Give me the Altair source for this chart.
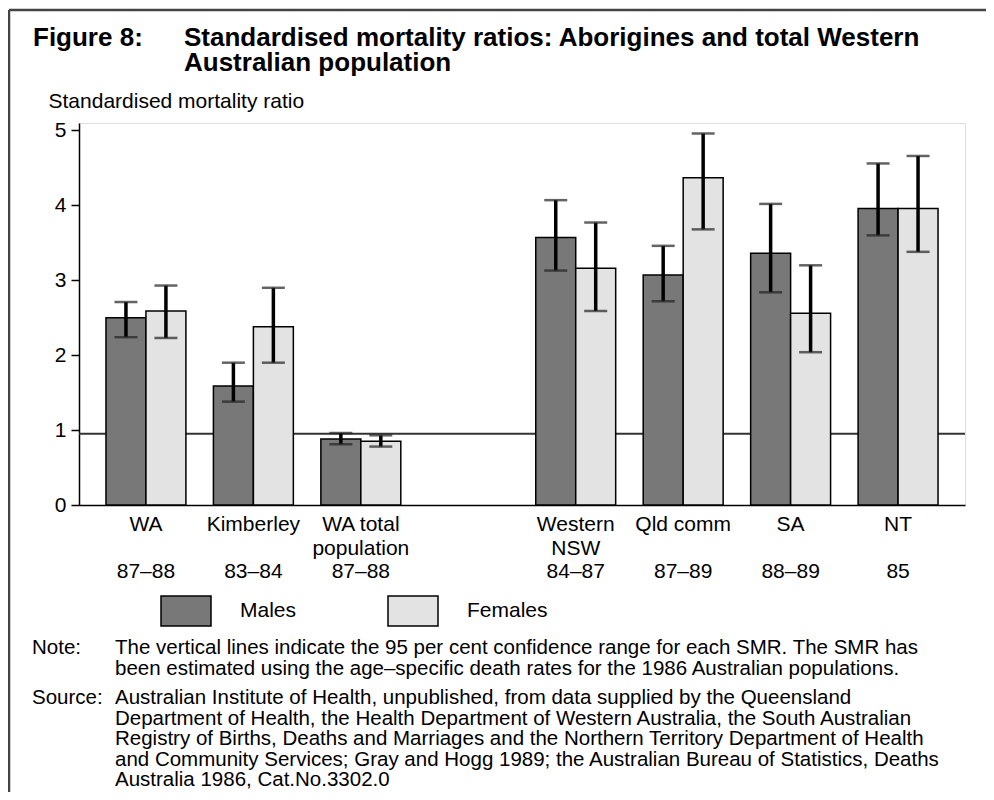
import json
import altair as alt
import pandas as pd

# ---------------- data ----------------
regions = ["WA", "Kimberley", "WA total population", "Western NSW", "Qld comm", "SA", "NT"]
periods = ["87–88", "83–84", "87–88", "84–87", "87–89", "88–89", "85"]
region_lines = [["WA"], ["Kimberley"], ["WA total", "population"],
                ["Western", "NSW"], ["Qld comm"], ["SA"], ["NT"]]
sexes = ["Males", "Females"]

male_smr = [2.50, 1.59, 0.88, 3.57, 3.07, 3.36, 3.96]
male_low = [2.24, 1.38, 0.81, 3.13, 2.72, 2.84, 3.60]
male_high = [2.71, 1.90, 0.96, 4.07, 3.46, 4.02, 4.56]

female_smr = [2.59, 2.38, 0.85, 3.16, 4.37, 2.56, 3.96]
female_low = [2.23, 1.90, 0.78, 2.59, 3.68, 2.04, 3.38]
female_high = [2.93, 2.90, 0.93, 3.77, 4.96, 3.20, 4.66]

ref_line = [0.95]
y_ticks = [0, 1, 2, 3, 4, 5]

fig_label = "Figure 8:"
title_lines = ["Standardised mortality ratios: Aborigines and total Western",
               "Australian population"]
y_title = "Standardised mortality ratio"
note_label = "Note:"
note_lines = ["The vertical lines indicate the 95 per cent confidence range for each SMR. The SMR has",
              "been estimated using the age–specific death rates for the 1986 Australian populations."]
source_label = "Source:"
source_lines = ["Australian Institute of Health, unpublished, from data supplied by the Queensland",
                "Department of Health, the Health Department of Western Australia, the South Australian",
                "Registry of Births, Deaths and Marriages and the Northern Territory Department of Health",
                "and Community Services; Gray and Hogg 1989; the Australian Bureau of Statistics, Deaths",
                "Australia 1986, Cat.No.3302.0"]

# ---------------- tables ----------------
rows = []
for i, r in enumerate(regions):
    rows.append({"region": r, "sex": "Males", "smr": male_smr[i], "low": male_low[i], "high": male_high[i]})
    rows.append({"region": r, "sex": "Females", "smr": female_smr[i], "low": female_low[i], "high": female_high[i]})
df = pd.DataFrame(rows)
period_df = pd.DataFrame({"region": regions, "period": periods})

gap_key = "gap"
x_domain = regions[:3] + [gap_key] + regions[3:]
label_lines = region_lines[:3] + [[""]] + region_lines[3:]
label_expr = (json.dumps(label_lines, ensure_ascii=False)
              + "[indexof(" + json.dumps(x_domain, ensure_ascii=False) + ", datum.value)]")

FONT = "Liberation Sans"
MALE = "#787878"
FEMALE = "#e3e3e3"

x_scale = alt.Scale(domain=x_domain, paddingInner=0.256, paddingOuter=0.251)
x_axis = alt.Axis(title=None, ticks=False, labelExpr=label_expr, labelAngle=0,
                  labelAlign="center", labelBaseline="top", labelLineHeight=24,
                  labelPadding=8.5, labelFontSize=21, labelFont=FONT, labelColor="black",
                  labelOverlap=False, labelBound=False, labelLimit=400,
                  domainColor="black", domainWidth=1.5)
x_enc = alt.X("region:N", scale=x_scale, axis=x_axis)
xoff_enc = alt.XOffset("sex:N", scale=alt.Scale(domain=sexes, paddingInner=0, paddingOuter=0))

y_scale = alt.Scale(domain=[0, 5.1], nice=False, zero=True)
y_axis = alt.Axis(values=y_ticks, format="d", grid=False, tickSize=8, tickColor="black",
                  tickWidth=1.5, domainColor="black", domainWidth=1.5, labelFontSize=21,
                  labelFont=FONT, labelColor="black", labelPadding=5,
                  title=y_title, titleAngle=0, titleAlign="left", titleBaseline="middle",
                  titleX=-31, titleY=-22, titleFontSize=21, titleFont=FONT,
                  titleFontWeight="normal", titleColor="black")


def yenc(field):
    return alt.Y(field, scale=y_scale, axis=y_axis)


base = alt.Chart(df)

ref = alt.Chart(pd.DataFrame({"smr": ref_line})).mark_rule(
    color="#333333", strokeWidth=2).encode(y=yenc("smr:Q"))

bars = base.mark_bar(stroke="black", strokeWidth=1.5).encode(
    x=x_enc, xOffset=xoff_enc, y=yenc("smr:Q"),
    color=alt.Color("sex:N", scale=alt.Scale(domain=sexes, range=[MALE, FEMALE]),
                    legend=alt.Legend(orient="none", legendX=81, legendY=462,
                                      direction="horizontal", title=None,
                                      symbolType="M-1,-0.6H1V0.6H-1Z", symbolSize=2500,
                                      symbolStrokeColor="black", symbolStrokeWidth=1.5,
                                      symbolOpacity=1, labelFontSize=21, labelFont=FONT,
                                      labelColor="black", labelOffset=28, columnPadding=88,
                                      padding=0)))

err = base.mark_rule(color="black", strokeWidth=3.5).encode(
    x=x_enc, xOffset=xoff_enc, y=yenc("low:Q"), y2="high:Q")
cap_hi = base.mark_tick(size=23, thickness=2.5, color="#222222").encode(
    x=x_enc, xOffset=xoff_enc, y=yenc("high:Q"))
cap_lo = base.mark_tick(size=23, thickness=2.5, color="#222222").encode(
    x=x_enc, xOffset=xoff_enc, y=yenc("low:Q"))

# period row under the category labels, positioned by the same band scale
period_txt = alt.Chart(period_df).mark_text(
    align="center", baseline="alphabetic", font=FONT, fontSize=21, color="black").encode(
    x=x_enc, y=alt.value(455), text="period:N")

anchor = pd.DataFrame({"a": [0]})


def text_block(lines, x, y, size=21, weight="normal", lh=21):
    return alt.Chart(anchor).mark_text(
        align="left", baseline="alphabetic", font=FONT, fontSize=size,
        fontWeight=weight, lineHeight=lh, color="black").encode(
        x=alt.value(x), y=alt.value(y), text=alt.value(lines))


fig_txt = text_block(fig_label, -46, -77, size=26, weight="bold")
title_txt = text_block(title_lines, 105, -77, size=26, weight="bold", lh=25)
note_lab = text_block(note_label, -47, 531, size=20.5)
note_txt = text_block(note_lines, 36, 531, size=20.5, lh=21)
src_lab = text_block(source_label, -47, 581, size=20.5)
src_txt = text_block(source_lines, 36, 581, size=20.5, lh=20.6)

border_top = alt.Chart(anchor).mark_rule(color="#444444", strokeWidth=2.5).encode(
    x=alt.value(-70), x2=alt.value(910), y=alt.value(-113))
border_left = alt.Chart(anchor).mark_rule(color="#444444", strokeWidth=2.5).encode(
    x=alt.value(-70), y=alt.value(-113), y2=alt.value(670))

chart = alt.layer(
    ref, bars, err, cap_hi, cap_lo, period_txt,
    fig_txt, title_txt, note_lab, note_txt, src_lab, src_txt,
    border_top, border_left,
).properties(
    width=886, height=382,
    padding={"left": 71, "top": 115, "right": 21, "bottom": 287},
    autosize=alt.AutoSizeParams(type="none"),
    background="white",
).configure_view(stroke="black", strokeWidth=1.5).configure(font=FONT)

chart.save("out.html", embed_options={"renderer": "svg", "actions": False})
